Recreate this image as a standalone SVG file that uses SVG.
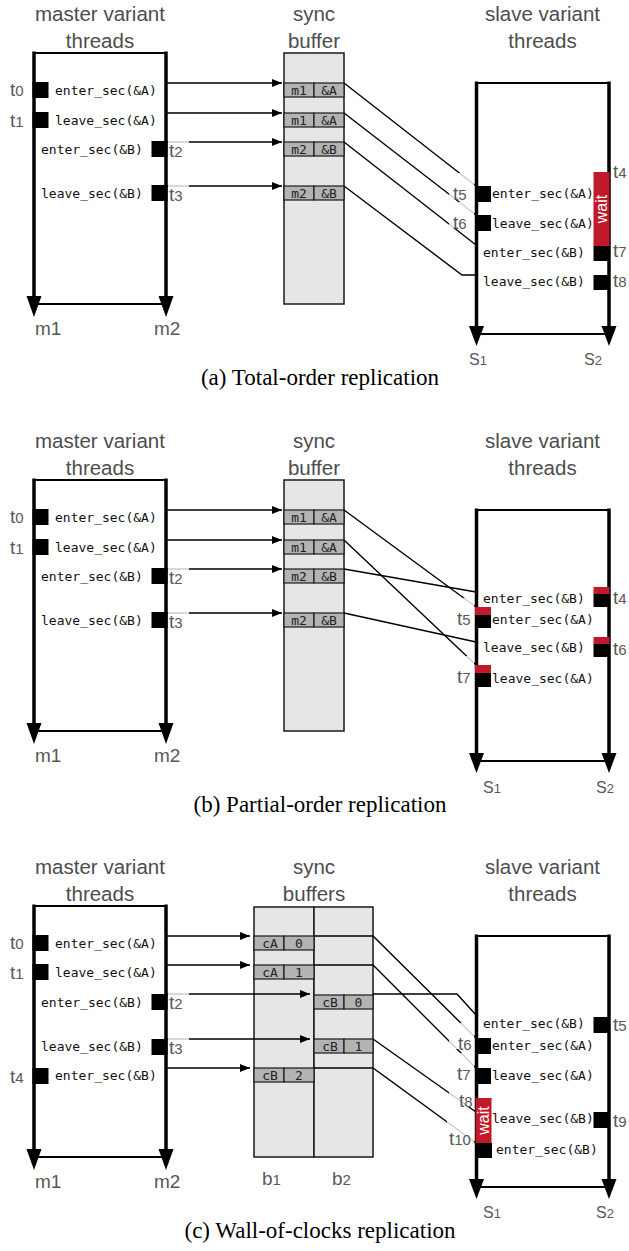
<svg xmlns="http://www.w3.org/2000/svg" width="629" height="1251" viewBox="0 0 629 1251">
<style>
.title{font-family:"Liberation Sans",Arial,sans-serif;font-size:20.5px;fill:#4d4d4d;text-anchor:middle}
.lbl{font-family:"Liberation Sans",Arial,sans-serif;font-size:19px;fill:#595959}
.slbl{font-family:"Liberation Sans",Arial,sans-serif;font-size:16px;fill:#595959}
.d{font-size:15px}
.sd{font-size:13px}
.code{font-family:"DejaVu Sans Mono",monospace;font-size:13px;fill:#111}
.cell{font-family:"DejaVu Sans Mono",monospace;font-size:13px;fill:#222;text-anchor:middle}
.cap{font-family:"Liberation Serif","Times New Roman",serif;font-size:23px;fill:#000;text-anchor:middle}
.wt{font-family:"Liberation Sans",Arial,sans-serif;font-size:16px;fill:#fff;text-anchor:middle}
.thr{stroke:#000;stroke-width:3.5}
.edge{stroke:#000;stroke-width:2}
.head{fill:#000}
.blk{fill:#000}
.red{fill:#c1182a}
.buf{fill:#e6e6e6;stroke:#1a1a1a;stroke-width:1.5}
.slot{fill:#b3b3b3;stroke:#1a1a1a;stroke-width:1.2}
.conn{fill:none;stroke:#000;stroke-width:1.4}
.arr{fill:none;stroke:#000;stroke-width:1.4;marker-end:url(#ah)}
.veil{fill:#fff;fill-opacity:.8}
</style>
<defs>
<marker id="ah" viewBox="0 0 10 8" markerWidth="10" markerHeight="8" refX="10" refY="4" orient="auto" markerUnits="userSpaceOnUse"><path d="M0,0L10,4L0,8z" fill="#000"/></marker>
<!-- master thread pair: box edges, thread axes and arrowheads -->
<g id="mframe">
<line class="edge" x1="34" y1="53" x2="166" y2="53"/>
<line class="edge" x1="34" y1="304" x2="166" y2="304"/>
<line class="thr" x1="34" y1="51.5" x2="34" y2="298"/>
<line class="thr" x1="166" y1="51.5" x2="166" y2="298"/>
<polygon class="head" points="26.5,296 41.5,296 34,317"/>
<polygon class="head" points="158.5,296 173.5,296 166,317"/>
</g>
<!-- slave thread pair -->
<g id="sframe">
<line class="edge" x1="476.5" y1="83" x2="609" y2="83"/>
<line class="edge" x1="476.5" y1="334" x2="609" y2="334"/>
<line class="thr" x1="476.5" y1="81.5" x2="476.5" y2="328"/>
<line class="thr" x1="609" y1="81.5" x2="609" y2="328"/>
<polygon class="head" points="469,326 484,326 476.5,346"/>
<polygon class="head" points="601.5,326 616.5,326 609,346"/>
</g>
</defs>

<!-- ===== (a) total order ===== -->
<g id="panel-a">
<g id="a-buffer">
<text class="title" x="314" y="21">sync</text><text class="title" x="314" y="48">buffer</text>
<rect class="buf" x="284" y="53" width="60" height="251"/>
</g>
<g id="a-connectors">
<path class="arr" d="M166,83H282"/>
<path class="arr" d="M166,113H282"/>
<path class="arr" d="M166,142H282"/>
<path class="arr" d="M166,186H282"/>
<path class="conn" d="M344,83L476,186"/>
<path class="conn" d="M344,113L476,215"/>
<path class="conn" d="M344,142L476,245"/>
<path class="conn" d="M344,186L462,275H476"/>
</g>
<g id="a-slots">
<rect class="slot" x="284" y="83" width="30" height="14"/><rect class="slot" x="314" y="83" width="30" height="14"/>
<text class="cell" x="299" y="94.5">m1</text><text class="cell" x="329" y="94.5">&amp;A</text>
<rect class="slot" x="284" y="113" width="30" height="14"/><rect class="slot" x="314" y="113" width="30" height="14"/>
<text class="cell" x="299" y="124.5">m1</text><text class="cell" x="329" y="124.5">&amp;A</text>
<rect class="slot" x="284" y="142" width="30" height="14"/><rect class="slot" x="314" y="142" width="30" height="14"/>
<text class="cell" x="299" y="153.5">m2</text><text class="cell" x="329" y="153.5">&amp;B</text>
<rect class="slot" x="284" y="186" width="30" height="14"/><rect class="slot" x="314" y="186" width="30" height="14"/>
<text class="cell" x="299" y="197.5">m2</text><text class="cell" x="329" y="197.5">&amp;B</text>
</g>
<g id="a-master">
<text class="title" x="100" y="21">master variant</text><text class="title" x="100" y="48">threads</text>
<use href="#mframe"/>
<rect class="blk" x="32.5" y="82" width="16" height="16"/>
<rect class="blk" x="32.5" y="112" width="16" height="16"/>
<rect class="blk" x="151.5" y="141" width="16" height="16"/>
<rect class="blk" x="151.5" y="185" width="16" height="16"/>
<text class="code" x="55" y="95">enter_sec(&amp;A)</text>
<text class="code" x="55" y="125">leave_sec(&amp;A)</text>
<text class="code" x="41" y="154">enter_sec(&amp;B)</text>
<text class="code" x="41" y="198">leave_sec(&amp;B)</text>
<rect class="veil" x="168" y="139" width="21" height="22"/>
<rect class="veil" x="168" y="183" width="21" height="22"/>
<text class="lbl" x="10" y="96">t<tspan class="d">0</tspan></text>
<text class="lbl" x="10" y="127">t<tspan class="d">1</tspan></text>
<text class="lbl" x="169" y="157">t<tspan class="d">2</tspan></text>
<text class="lbl" x="169" y="201">t<tspan class="d">3</tspan></text>
<text class="lbl" x="35" y="335">m1</text><text class="lbl" x="154" y="335">m2</text>
</g>
<g id="a-slave">
<text class="title" x="542.5" y="21">slave variant</text><text class="title" x="542.5" y="48">threads</text>
<use href="#sframe"/>
<rect class="blk" x="475" y="186" width="16" height="16"/>
<rect class="blk" x="475" y="215" width="16" height="16"/>
<rect class="red" x="593.5" y="172" width="16" height="74"/>
<text class="wt" transform="translate(601.5,209) rotate(-90)" y="5.5">wait</text>
<rect class="blk" x="593.5" y="246" width="16" height="15"/>
<rect class="blk" x="593.5" y="275" width="16" height="15"/>
<text class="code" x="492" y="198">enter_sec(&amp;A)</text>
<text class="code" x="492" y="228">leave_sec(&amp;A)</text>
<text class="code" x="483" y="257">enter_sec(&amp;B)</text>
<text class="code" x="483" y="286">leave_sec(&amp;B)</text>
<rect class="veil" x="449" y="173" width="25" height="26"/>
<rect class="veil" x="449" y="202" width="25" height="26"/>
<text class="lbl" x="453" y="200">t<tspan class="d">5</tspan></text>
<text class="lbl" x="453" y="229">t<tspan class="d">6</tspan></text>
<text class="lbl" x="613" y="178">t<tspan class="d">4</tspan></text>
<text class="lbl" x="613" y="257">t<tspan class="d">7</tspan></text>
<text class="lbl" x="613" y="287">t<tspan class="d">8</tspan></text>
<text class="slbl" x="469" y="365">S<tspan class="sd">1</tspan></text>
<text class="slbl" x="584" y="365">S<tspan class="sd">2</tspan></text>
</g>
<text class="cap" x="320" y="385">(a) Total-order replication</text>
</g>

<!-- ===== (b) partial order ===== -->
<g id="panel-b" transform="translate(0,427)">
<g id="b-buffer">
<text class="title" x="314" y="21">sync</text><text class="title" x="314" y="48">buffer</text>
<rect class="buf" x="284" y="53" width="60" height="251"/>
</g>
<g id="b-connectors">
<path class="arr" d="M166,83H282"/>
<path class="arr" d="M166,113H282"/>
<path class="arr" d="M166,142H282"/>
<path class="arr" d="M166,186H282"/>
<path class="conn" d="M344,83L476,180"/>
<path class="conn" d="M344,113L476,238"/>
<path class="conn" d="M344,142L476,165"/>
<path class="conn" d="M344,186L476,215"/>
</g>
<g id="b-slots">
<rect class="slot" x="284" y="83" width="30" height="14"/><rect class="slot" x="314" y="83" width="30" height="14"/>
<text class="cell" x="299" y="94.5">m1</text><text class="cell" x="329" y="94.5">&amp;A</text>
<rect class="slot" x="284" y="113" width="30" height="14"/><rect class="slot" x="314" y="113" width="30" height="14"/>
<text class="cell" x="299" y="124.5">m1</text><text class="cell" x="329" y="124.5">&amp;A</text>
<rect class="slot" x="284" y="142" width="30" height="14"/><rect class="slot" x="314" y="142" width="30" height="14"/>
<text class="cell" x="299" y="153.5">m2</text><text class="cell" x="329" y="153.5">&amp;B</text>
<rect class="slot" x="284" y="186" width="30" height="14"/><rect class="slot" x="314" y="186" width="30" height="14"/>
<text class="cell" x="299" y="197.5">m2</text><text class="cell" x="329" y="197.5">&amp;B</text>
</g>
<g id="b-master">
<text class="title" x="100" y="21">master variant</text><text class="title" x="100" y="48">threads</text>
<use href="#mframe"/>
<rect class="blk" x="32.5" y="82" width="16" height="16"/>
<rect class="blk" x="32.5" y="112" width="16" height="16"/>
<rect class="blk" x="151.5" y="141" width="16" height="16"/>
<rect class="blk" x="151.5" y="185" width="16" height="16"/>
<text class="code" x="55" y="95">enter_sec(&amp;A)</text>
<text class="code" x="55" y="125">leave_sec(&amp;A)</text>
<text class="code" x="41" y="154">enter_sec(&amp;B)</text>
<text class="code" x="41" y="198">leave_sec(&amp;B)</text>
<rect class="veil" x="168" y="139" width="21" height="22"/>
<rect class="veil" x="168" y="183" width="21" height="22"/>
<text class="lbl" x="10" y="96">t<tspan class="d">0</tspan></text>
<text class="lbl" x="10" y="127">t<tspan class="d">1</tspan></text>
<text class="lbl" x="169" y="157">t<tspan class="d">2</tspan></text>
<text class="lbl" x="169" y="201">t<tspan class="d">3</tspan></text>
<text class="lbl" x="35" y="335">m1</text><text class="lbl" x="154" y="335">m2</text>
</g>
<g id="b-slave">
<text class="title" x="542.5" y="21">slave variant</text><text class="title" x="542.5" y="48">threads</text>
<use href="#sframe"/>
<rect class="red" x="475" y="180" width="16" height="8"/><rect class="blk" x="475" y="188" width="16" height="13"/>
<rect class="red" x="475" y="238" width="16" height="8"/><rect class="blk" x="475" y="246" width="16" height="14"/>
<rect class="red" x="593.5" y="160" width="16" height="7"/><rect class="blk" x="593.5" y="167" width="16" height="13"/>
<rect class="red" x="593.5" y="210" width="16" height="7"/><rect class="blk" x="593.5" y="217" width="16" height="13"/>
<text class="code" x="483" y="176">enter_sec(&amp;B)</text>
<text class="code" x="492" y="197">enter_sec(&amp;A)</text>
<text class="code" x="483" y="225">leave_sec(&amp;B)</text>
<text class="code" x="492" y="256">leave_sec(&amp;A)</text>
<rect class="veil" x="449" y="171" width="25" height="26"/>
<rect class="veil" x="449" y="229" width="25" height="26"/>
<text class="lbl" x="457" y="198">t<tspan class="d">5</tspan></text>
<text class="lbl" x="457" y="256">t<tspan class="d">7</tspan></text>
<text class="lbl" x="613" y="177">t<tspan class="d">4</tspan></text>
<text class="lbl" x="613" y="228">t<tspan class="d">6</tspan></text>
<text class="slbl" x="483" y="366">S<tspan class="sd">1</tspan></text>
<text class="slbl" x="596" y="366">S<tspan class="sd">2</tspan></text>
</g>
<text class="cap" x="320" y="385">(b) Partial-order replication</text>
</g>

<!-- ===== (c) wall of clocks ===== -->
<g id="panel-c" transform="translate(0,853)">
<g id="c-buffers">
<text class="title" x="314" y="21">sync</text><text class="title" x="314" y="48">buffers</text>
<rect class="buf" x="254" y="54" width="60" height="250"/>
<rect class="buf" x="314" y="54" width="59" height="250"/>
<text class="lbl" x="262" y="332">b<tspan class="d">1</tspan></text>
<text class="lbl" x="332" y="332">b<tspan class="d">2</tspan></text>
</g>
<g id="c-connectors">
<path class="arr" d="M166,83H250"/>
<path class="arr" d="M166,112H250"/>
<path class="arr" d="M166,141H310"/>
<path class="arr" d="M166,186H310"/>
<path class="arr" d="M166,215H250"/>
<path class="conn" d="M314,83H373L476,185"/>
<path class="conn" d="M314,112H373L476,215"/>
<path class="conn" d="M373,141H457L476,162"/>
<path class="conn" d="M373,186L476,259"/>
<path class="conn" d="M314,215H373L476,290"/>
</g>
<g id="c-slots">
<rect class="slot" x="254" y="83" width="30" height="14"/><rect class="slot" x="284" y="83" width="30" height="14"/>
<text class="cell" x="270" y="94.5">cA</text><text class="cell" x="299" y="94.5">0</text>
<rect class="slot" x="254" y="112" width="30" height="14"/><rect class="slot" x="284" y="112" width="30" height="14"/>
<text class="cell" x="270" y="123.5">cA</text><text class="cell" x="299" y="123.5">1</text>
<rect class="slot" x="314" y="142" width="30" height="14"/><rect class="slot" x="344" y="142" width="29" height="14"/>
<text class="cell" x="330" y="153.5">cB</text><text class="cell" x="358.5" y="153.5">0</text>
<rect class="slot" x="314" y="186" width="30" height="14"/><rect class="slot" x="344" y="186" width="29" height="14"/>
<text class="cell" x="330" y="197.5">cB</text><text class="cell" x="358.5" y="197.5">1</text>
<rect class="slot" x="254" y="215" width="30" height="14"/><rect class="slot" x="284" y="215" width="30" height="14"/>
<text class="cell" x="270" y="226.5">cB</text><text class="cell" x="299" y="226.5">2</text>
</g>
<g id="c-master">
<text class="title" x="100" y="21">master variant</text><text class="title" x="100" y="48">threads</text>
<use href="#mframe"/>
<rect class="blk" x="32.5" y="82" width="16" height="16"/>
<rect class="blk" x="32.5" y="111" width="16" height="16"/>
<rect class="blk" x="151.5" y="141" width="16" height="16"/>
<rect class="blk" x="151.5" y="186" width="16" height="16"/>
<rect class="blk" x="32.5" y="215" width="16" height="16"/>
<text class="code" x="55" y="95">enter_sec(&amp;A)</text>
<text class="code" x="55" y="124">leave_sec(&amp;A)</text>
<text class="code" x="41" y="154">enter_sec(&amp;B)</text>
<text class="code" x="41" y="198">leave_sec(&amp;B)</text>
<text class="code" x="55" y="227">enter_sec(&amp;B)</text>
<rect class="veil" x="168" y="138" width="21" height="22"/>
<rect class="veil" x="168" y="183" width="21" height="22"/>
<text class="lbl" x="10" y="96">t<tspan class="d">0</tspan></text>
<text class="lbl" x="10" y="126">t<tspan class="d">1</tspan></text>
<text class="lbl" x="169" y="156">t<tspan class="d">2</tspan></text>
<text class="lbl" x="169" y="201">t<tspan class="d">3</tspan></text>
<text class="lbl" x="10" y="230">t<tspan class="d">4</tspan></text>
<text class="lbl" x="35" y="335">m1</text><text class="lbl" x="154" y="335">m2</text>
</g>
<g id="c-slave">
<text class="title" x="542.5" y="21">slave variant</text><text class="title" x="542.5" y="48">threads</text>
<use href="#sframe"/>
<rect class="blk" x="593.5" y="164" width="16" height="16"/>
<rect class="blk" x="593.5" y="259" width="16" height="16"/>
<rect class="blk" x="475" y="185" width="16" height="16"/>
<rect class="blk" x="475" y="215" width="16" height="16"/>
<rect class="red" x="475.5" y="245" width="16" height="45"/>
<text class="wt" transform="translate(483.5,267.5) rotate(-90)" y="5.5">wait</text>
<rect class="blk" x="475" y="290" width="17" height="15"/>
<text class="code" x="483" y="175">enter_sec(&amp;B)</text>
<text class="code" x="492" y="197">enter_sec(&amp;A)</text>
<text class="code" x="492" y="227">leave_sec(&amp;A)</text>
<text class="code" x="492" y="270">leave_sec(&amp;B)</text>
<text class="code" x="496" y="301">enter_sec(&amp;B)</text>
<rect class="veil" x="449" y="170" width="25" height="26"/>
<rect class="veil" x="449" y="200" width="25" height="26"/>
<rect class="veil" x="449" y="227" width="25" height="26"/>
<rect class="veil" x="447" y="265" width="27" height="26"/>
<text class="lbl" x="458" y="197">t<tspan class="d">6</tspan></text>
<text class="lbl" x="457" y="227">t<tspan class="d">7</tspan></text>
<text class="lbl" x="459" y="254">t<tspan class="d">8</tspan></text>
<text class="lbl" x="449" y="292">t<tspan class="d">10</tspan></text>
<text class="lbl" x="613" y="178">t<tspan class="d">5</tspan></text>
<text class="lbl" x="613" y="274">t<tspan class="d">9</tspan></text>
<text class="slbl" x="483" y="365">S<tspan class="sd">1</tspan></text>
<text class="slbl" x="596" y="365">S<tspan class="sd">2</tspan></text>
</g>
<text class="cap" x="320" y="385">(c) Wall-of-clocks replication</text>
</g>
</svg>
